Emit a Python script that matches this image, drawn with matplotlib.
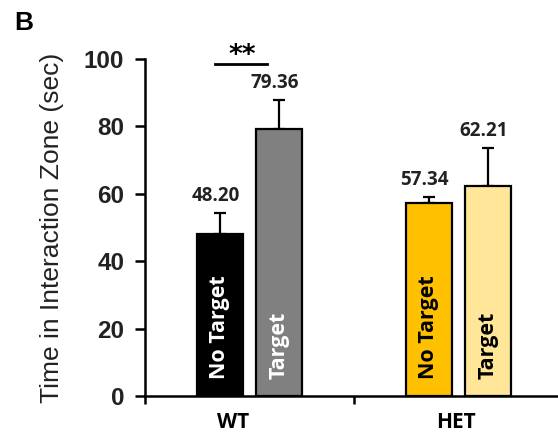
import numpy as np
import matplotlib
matplotlib.use('Agg')
import matplotlib.pyplot as plt

# Group means and SEM for the social interaction test
groups = ['WT', 'HET']
conditions = ['No Target', 'Target']
no_target_mean = [48.20, 57.34]
target_mean = [79.36, 62.21]
no_target_sem = [6.1, 1.8]
target_sem = [8.5, 11.4]

no_target_colors = ['#000000', '#FFC000']
target_colors = ['#808080', '#FFE699']
inner_text_colors = [['white', 'white'], ['black', 'black']]

fig = plt.figure(figsize=(5.58, 4.41), dpi=100)
ax = fig.add_axes([145 / 558, 45 / 441, 413 / 558, 337 / 441])

x = np.arange(len(groups))
offset = 0.142
width = 0.22

bars_nt = ax.bar(x - offset, no_target_mean, width, color=no_target_colors,
                 edgecolor='black', linewidth=1.6, zorder=2)
bars_t = ax.bar(x + offset, target_mean, width, color=target_colors,
                edgecolor='black', linewidth=1.6, zorder=2)

# upper error bars only
ax.errorbar(x - offset, no_target_mean, yerr=[np.zeros(2), no_target_sem],
            fmt='none', ecolor='black', elinewidth=1.6, capsize=4, capthick=1.6, zorder=1)
ax.errorbar(x + offset, target_mean, yerr=[np.zeros(2), target_sem],
            fmt='none', ecolor='black', elinewidth=1.6, capsize=4, capthick=1.6, zorder=1)

# value labels above each error bar
for xs, means, sems in [(x - offset, no_target_mean, no_target_sem),
                        (x + offset, target_mean, target_sem)]:
    for xi, m, s in zip(xs, means, sems):
        ax.annotate(f'{m:.2f}', (xi, m + s), xytext=(-3, 5), textcoords='offset points',
                    ha='center', va='bottom', fontsize=13.5, fontweight='bold',
                    family='Open Sans', color='#222222')

# condition names written inside the bars
for i in range(len(groups)):
    ax.text(x[i] - offset, 5.0, conditions[0], rotation=90, ha='center', va='bottom',
            fontsize=15.5, fontweight='bold', family='Open Sans', color=inner_text_colors[i][0])
    ax.text(x[i] + offset, 5.0, conditions[1], rotation=90, ha='center', va='bottom',
            fontsize=15.5, fontweight='bold', family='Open Sans', color=inner_text_colors[i][1])

# significance marker for WT
ax.plot([-0.165, 0.084], [98.5, 98.5], color='black', lw=2, clip_on=False)
ax.text(-0.036, 97.0, '**', ha='center', va='bottom', fontsize=19, fontweight='bold',
        family='DejaVu Sans', clip_on=False)

ax.set_ylim(0, 100)
ax.set_xlim(-0.5, -0.5 + 413 / 209)
ax.set_yticks(np.arange(0, 101, 20))
ax.tick_params(axis='y', labelsize=17.5, width=1.8, length=7, direction='out', pad=8)
for lab in ax.get_yticklabels():
    lab.set_fontweight('bold')
    lab.set_family('Liberation Sans')
    lab.set_color('#222222')

# category boundaries as ticks, group names placed without ticks
ax.set_xticks([-0.5, 0.5])
ax.set_xticklabels([])
ax.tick_params(axis='x', width=1.8, length=6)
for xi, name in zip([-0.08, 0.99], groups):
    ax.text(xi, -8.0, name, ha='center', va='center', fontsize=15, fontweight='bold',
            family='Open Sans', transform=ax.transData)

for side in ['top', 'right']:
    ax.spines[side].set_visible(False)
ax.spines['left'].set_linewidth(1.8)
ax.spines['bottom'].set_linewidth(1.8)

ax.set_ylabel('Time in Interaction Zone (sec)', fontsize=19, family='Liberation Sans',
              color='#222222')
ax.yaxis.set_label_coords(-0.195, 0.5)

fig.text(24 / 558, 1 - 23 / 441, 'B', ha='center', va='center', fontsize=19,
         fontweight='bold', family='Liberation Sans')

fig.savefig('out.png', dpi=100)
